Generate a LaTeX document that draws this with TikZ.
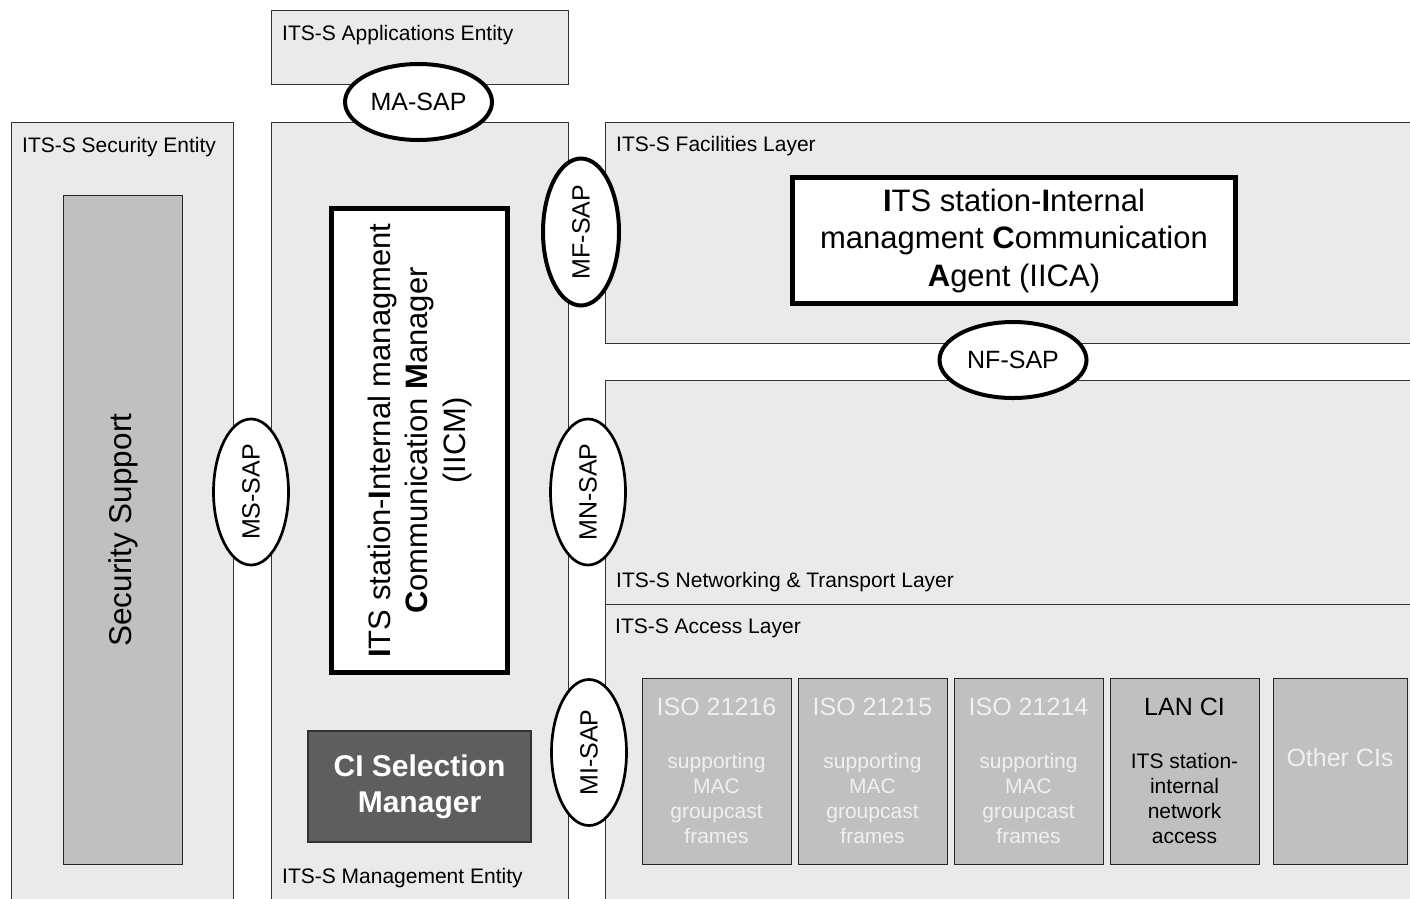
\documentclass[tikz,border=0pt]{standalone}
\usepackage{fontspec}
\setmainfont{Liberation Sans}
\usetikzlibrary{shapes.geometric}

\definecolor{layer_gray}{HTML}{EAEAEA}
\definecolor{ci_gray}{HTML}{C0C0C0}
\definecolor{sel_gray}{HTML}{5E5E5E}
\definecolor{ci_text}{HTML}{F0F0F0}

\tikzset{
  panel/.style={draw=black!80, line width=1.2pt, fill=layer_gray, anchor=north west, inner sep=0pt},
  panellabel/.style={anchor=base west, inner sep=0pt, font=\fontsize{21pt}{25pt}\selectfont},
  sap/.style={ellipse, draw, fill=white, line width=4pt, inner sep=0pt,
    minimum width=147pt, minimum height=76pt, font=\fontsize{25pt}{30pt}\selectfont},
  sapthin/.style={sap, line width=2.7pt, minimum width=146pt, minimum height=75pt},
  agentbox/.style={draw, fill=white, line width=5pt, inner sep=0pt, align=center,
    font=\fontsize{31pt}{37.5pt}\selectfont},
  cibox/.style={draw=black!85, line width=1.2pt, fill=ci_gray, anchor=north west,
    minimum width=149pt, minimum height=186pt, inner sep=0pt},
  cititle/.style={anchor=base, inner sep=0pt, font=\fontsize{25pt}{30pt}\selectfont},
  cibody/.style={anchor=base, inner sep=0pt, align=center, font=\fontsize{21pt}{25pt}\selectfont}
}

\begin{document}
\begin{tikzpicture}[x=1pt, y=-1pt]

\useasboundingbox (0,0) rectangle (1410,898);
\clip (0,0) rectangle (1410,898);

% entities and layers
\node[panel, minimum width=297pt, minimum height=74pt] (appent) at (271,10) {};
\node[panellabel] (appentlabel) at (282,40) {ITS-S Applications Entity};

\node[panel, minimum width=222pt, minimum height=800pt] (secent) at (11,122) {};
\node[panellabel] (secentlabel) at (22,152) {ITS-S Security Entity};

\node[panel, minimum width=297pt, minimum height=800pt] (mgmtent) at (271,122) {};
\node[panellabel] (mgmtentlabel) at (282,883) {ITS-S Management Entity};

\node[panel, minimum width=850pt, minimum height=221pt] (faclayer) at (605,122) {};
\node[panellabel] (faclayerlabel) at (616,151) {ITS-S Facilities Layer};

\node[panel, minimum width=850pt, minimum height=224pt] (netlayer) at (605,380) {};
\node[panellabel] (netlayerlabel) at (616,587) {ITS-S Networking \& Transport Layer};

\node[panel, minimum width=850pt, minimum height=400pt] (acclayer) at (605,604) {};
\node[panellabel] (acclayerlabel) at (615,633) {ITS-S Access Layer};

% security support
\node[cibox, minimum width=119pt, minimum height=669pt] (secsupport) at (63,195) {};
\node[rotate=90, inner sep=0pt, font=\fontsize{31.5pt}{37pt}\selectfont] (secsupportlabel)
  at (secsupport.center) {Security Support};

% management boxes
\node[agentbox, rotate=90, minimum width=464pt, minimum height=176pt] (iicm) at (419.5,440.5)
  {\textbf{I}TS station-\textbf{I}nternal managment\\\textbf{C}ommunication \textbf{M}anager\\(IICM)};

\node[draw=black!80, line width=1.2pt, fill=sel_gray, text=white, align=center,
  minimum width=223pt, minimum height=111pt, inner sep=0pt,
  font=\bfseries\fontsize{30pt}{36pt}\selectfont] (ciselect) at (419.5,786.5)
  {CI Selection\\Manager};

\node[agentbox, minimum width=443pt, minimum height=126pt] (iica) at (1014,240.5)
  {\textbf{I}TS station-\textbf{I}nternal\\managment \textbf{C}ommunication\\\textbf{A}gent (IICA)};

% communication interfaces
\node[cibox] (iso16) at (642,678) {};
\node[cititle, text=ci_text] (iso16title) at (716.5,715) {ISO 21216};
\node[cibody, text=ci_text] (iso16body) at (716.5,843) {supporting\\MAC\\groupcast\\frames};

\node[cibox] (iso15) at (798,678) {};
\node[cititle, text=ci_text] (iso15title) at (872.5,715) {ISO 21215};
\node[cibody, text=ci_text] (iso15body) at (872.5,843) {supporting\\MAC\\groupcast\\frames};

\node[cibox] (iso14) at (954,678) {};
\node[cititle, text=ci_text] (iso14title) at (1028.5,715) {ISO 21214};
\node[cibody, text=ci_text] (iso14body) at (1028.5,843) {supporting\\MAC\\groupcast\\frames};

\node[cibox] (lanci) at (1110,678) {};
\node[cititle] (lancititle) at (1184.5,715) {LAN CI};
\node[cibody] (lancibody) at (1184.5,843) {ITS station-\\internal\\network\\access};

\node[cibox, minimum width=134pt] (otherci) at (1273,678) {};
\node[cititle, text=ci_text] (othercititle) at (1340,766) {Other CIs};

% service access points
\node[sap] (masap) at (418.5,102) {MA-SAP};
\node[sap, rotate=90] (mfsap) at (581,232) {MF-SAP};
\node[sap] (nfsap) at (1013,360) {NF-SAP};
\node[sapthin, rotate=90] (mssap) at (251,492) {MS-SAP};
\node[sapthin, rotate=90] (mnsap) at (588,492) {MN-SAP};
\node[sapthin, rotate=90] (misap) at (589,752.5) {MI-SAP};

\end{tikzpicture}
\end{document}
